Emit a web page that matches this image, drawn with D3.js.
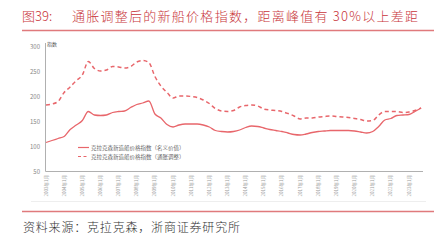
<!DOCTYPE html>
<html>
<head>
<meta charset="utf-8">
<script src="https://cdn.jsdelivr.net/npm/d3@7"></script>
<style>
  body { margin: 0; background: #fff; }
  svg { display: block; font-family: "Noto Sans CJK SC", "Noto Sans", sans-serif; }
</style>
</head>
<body>
<svg width="442" height="248"></svg>
<script>
// sample dates, every four months
var dates = [];
for (var y = 2003; y <= 2023; y++) {
  ["01", "05", "09"].forEach(function(m){ dates.push(y + "-" + m); });
}

// Clarksons newbuilding price index, nominal
var nominal = [
  108, 112, 116,
  120, 134, 143,
  152, 170, 163,
  162, 163, 168,
  170, 171, 178,
  184, 187, 191,
  165, 157, 144,
  139, 143, 145,
  145, 145, 143,
  139, 132, 130,
  129, 130, 133,
  138, 141, 140,
  137, 134, 132,
  130, 127, 124,
  123, 125, 128,
  130, 131, 132,
  132, 132, 132,
  131, 129, 127,
  130, 140, 153,
  156, 162, 163,
  164, 170, 177
];

// inflation adjusted
var adjusted = [
  183, 185, 190,
  208, 219, 232,
  243, 270, 256,
  251, 253, 260,
  259, 257, 260,
  269, 272, 268,
  240, 221, 208,
  197, 201, 201,
  200, 198, 193,
  186, 176, 171,
  170, 172, 179,
  182, 183, 181,
  175, 173, 172,
  170, 166, 161,
  155, 157, 157,
  159, 160, 161,
  160, 159, 158,
  156, 154, 151,
  152, 163, 170,
  170, 170, 168,
  169, 172, 177
];

var yTicks = [50, 100, 150, 200, 250, 300];
var tickYears = d3.range(2003, 2024);

var seriesNames = ["克拉克森新造船价格指数（名义价值）", "克拉克森新造船价格指数（通胀调整）"];

var red = "#e8666b";
var parse = d3.timeParse("%Y-%m");

var svg = d3.select("svg");

// title
svg.append("text")
  .attr("x", 22).attr("y", 21)
  .attr("fill", "#c8353a")
  .style("font-size", "13px")
  .style("font-weight", 300)
  .text("图39:");
svg.append("text")
  .attr("x", 72).attr("y", 21)
  .attr("fill", "#c8353a")
  .attr("textLength", 346)
  .attr("lengthAdjust", "spacing")
  .style("font-size", "13px")
  .style("font-weight", 300)
  .text("通胀调整后的新船价格指数，距离峰值有 30%以上差距");
svg.append("line")
  .attr("x1", 22).attr("x2", 434).attr("y1", 30.5).attr("y2", 30.5)
  .attr("stroke", "#e07a7c").attr("stroke-width", 1.5);

var x = d3.scaleTime()
  .domain([parse("2003-01"), parse("2023-01")])
  .range([46, 409]);

var yS = d3.scaleLinear()
  .domain([50, 300])
  .range([171.5, 46.5]);

// axes
svg.append("line")
  .attr("x1", 45.5).attr("x2", 45.5).attr("y1", 43).attr("y2", 171.5)
  .attr("stroke", "#b0b0b0").attr("stroke-width", 1);
svg.append("line")
  .attr("x1", 45.5).attr("x2", 423).attr("y1", 171.5).attr("y2", 171.5)
  .attr("stroke", "#b0b0b0").attr("stroke-width", 1);

svg.append("text")
  .attr("x", 47).attr("y", 46)
  .attr("fill", "#555")
  .style("font-size", "5px")
  .text("指数");

svg.selectAll(".ytick")
  .data(yTicks)
  .enter().append("text")
  .attr("class", "ytick")
  .attr("x", 40)
  .attr("y", function(d){ return yS(d) + 2; })
  .attr("text-anchor", "end")
  .attr("fill", "#888")
  .style("font-size", "6px")
  .text(function(d){ return d; });

svg.selectAll(".xtick")
  .data(tickYears)
  .enter().append("text")
  .attr("class", "xtick")
  .attr("transform", function(d){
    return "translate(" + (x(parse(d + "-01")) + 1.5) + ",175) rotate(-90)";
  })
  .attr("text-anchor", "end")
  .attr("fill", "#9a9a9a")
  .style("font-size", "4.5px")
  .text(function(d){ return d + "年1月"; });

// lines
var line = d3.line()
  .x(function(d){ return x(parse(d[0])); })
  .y(function(d){ return yS(d[1]); })
  .curve(d3.curveMonotoneX);

svg.append("path")
  .datum(d3.zip(dates, adjusted))
  .attr("d", line)
  .attr("fill", "none")
  .attr("stroke", red)
  .attr("stroke-width", 1.5)
  .attr("stroke-dasharray", "4,3");

svg.append("path")
  .datum(d3.zip(dates, nominal))
  .attr("d", line)
  .attr("fill", "none")
  .attr("stroke", red)
  .attr("stroke-width", 1.3);

// legend
var leg = svg.selectAll(".leg")
  .data(seriesNames)
  .enter().append("g")
  .attr("class", "leg")
  .attr("transform", function(d, i){ return "translate(78," + (147.5 + i * 9) + ")"; });
leg.append("line")
  .attr("x1", 0).attr("x2", 11).attr("y1", 0).attr("y2", 0)
  .attr("stroke", red).attr("stroke-width", 1.2)
  .attr("stroke-dasharray", function(d, i){ return i ? "3,2.5" : null; });
leg.append("text")
  .attr("x", 13).attr("y", 2)
  .attr("fill", "#666")
  .style("font-size", "5.5px")
  .text(function(d){ return d; });

// bottom rules and source
svg.append("line")
  .attr("x1", 31).attr("x2", 426).attr("y1", 201.5).attr("y2", 201.5)
  .attr("stroke", "#eeeeee").attr("stroke-width", 1);
svg.append("line")
  .attr("x1", 22).attr("x2", 434).attr("y1", 211.5).attr("y2", 211.5)
  .attr("stroke", "#e07a7c").attr("stroke-width", 1.5);
svg.append("text")
  .attr("x", 23).attr("y", 232)
  .attr("fill", "#333")
  .attr("textLength", 217)
  .attr("lengthAdjust", "spacing")
  .style("font-size", "12px")
  .style("font-weight", 300)
  .text("资料来源：克拉克森，浙商证券研究所");
</script>
</body>
</html>
